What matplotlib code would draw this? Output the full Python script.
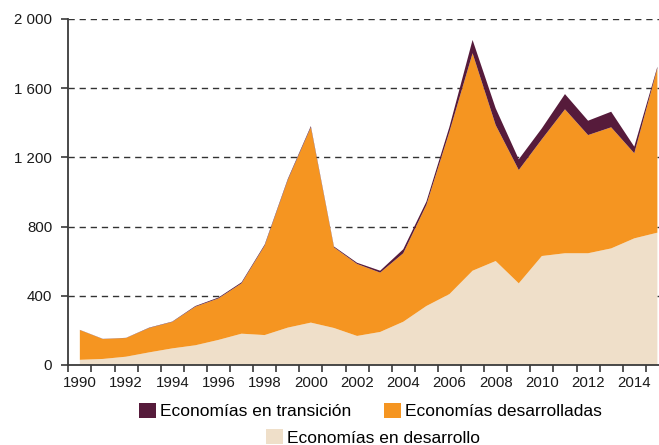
import matplotlib
matplotlib.use("Agg")
import matplotlib.pyplot as plt
from matplotlib.patches import Patch
from matplotlib.ticker import FixedLocator, FuncFormatter

plt.rcParams['font.family'] = ['Liberation Sans', 'DejaVu Sans']

years = list(range(1990, 2016))
developing = [30, 35, 48, 73, 96, 114, 145, 181, 173, 216, 245, 214, 168, 191, 250,
              341, 410, 545, 601, 472, 630, 646, 646, 674, 732, 765]
developed = [172, 115, 108, 141, 153, 223, 240, 291, 517, 853, 1129, 466, 416, 343, 396,
             584, 939, 1257, 786, 655, 675, 832, 683, 700, 492, 950]
transition = [1, 1, 1, 2, 2, 4, 5, 6, 6, 6, 7, 5, 7, 11, 23,
              19, 28, 77, 97, 62, 63, 88, 83, 90, 38, 9]
labels = ["Economías en desarrollo", "Economías desarrolladas", "Economías en transición"]
yticks = [0, 400, 800, 1200, 1600, 2000]
xlabel_years = list(range(1990, 2015, 2))

c_dev = "#efdfc9"
c_ded = "#f59521"
c_tra = "#561b3b"

W, H = 659, 445
fig = plt.figure(figsize=(W / 100, H / 100), dpi=100)
ax = fig.add_axes([68.3 / W, 1 - 365 / H, 1 - 68.3 / W, (365 - 19) / H])

ax.stackplot(years, developing, developed, transition,
             colors=[c_dev, c_ded, c_tra], linewidth=0)

ax.set_xlim(1989.5, 2015.07)
ax.set_ylim(0, 2000)

for s in ["top", "right"]:
    ax.spines[s].set_visible(False)
for s in ["left", "bottom"]:
    ax.spines[s].set_color("#3a3a3a")
    ax.spines[s].set_linewidth(1.3)

ax.set_yticks(yticks)
ax.yaxis.set_major_formatter(FuncFormatter(lambda v, p: f"{int(v):,}".replace(",", " ")))
ax.tick_params(axis="y", length=5, width=1.2, color="#3a3a3a", pad=6.5,
               labelsize=10.8, labelcolor="#1a1a1a")

ax.xaxis.set_major_locator(FixedLocator([y - 0.5 for y in years]))
ax.xaxis.set_major_formatter(FuncFormatter(lambda v, p: ""))
ax.xaxis.set_minor_locator(FixedLocator(xlabel_years))
ax.xaxis.set_minor_formatter(FuncFormatter(lambda v, p: f"{int(round(v))}"))
ax.tick_params(axis="x", which="major", length=5, width=1.2, color="#3a3a3a")
ax.tick_params(axis="x", which="minor", length=0, pad=8, labelsize=10.8, labelcolor="#1a1a1a")

for v in yticks[1:]:
    ax.axhline(v, color="#333333", linewidth=1.0, linestyle=(0, (4.5, 3.5)), zorder=0.5)
ax.set_axisbelow(False)
ax.set_zorder(1)

leg_kw = dict(frameon=False, fontsize=12.5, handlelength=0.95, handleheight=0.95,
              handletextpad=0.25, borderpad=0, borderaxespad=0, loc="center")
h1 = [Patch(facecolor=c_tra, edgecolor="none", label=labels[2]),
      Patch(facecolor=c_ded, edgecolor="none", label=labels[1])]
fig.legend(handles=h1, ncol=2, columnspacing=1.9,
           bbox_to_anchor=(370.8 / W, 1 - 411 / H), **leg_kw)
h2 = [Patch(facecolor=c_dev, edgecolor="none", label=labels[0])]
fig.legend(handles=h2, bbox_to_anchor=(373 / W, 1 - 437.5 / H), **leg_kw)

fig.savefig("out.png", dpi=100)
